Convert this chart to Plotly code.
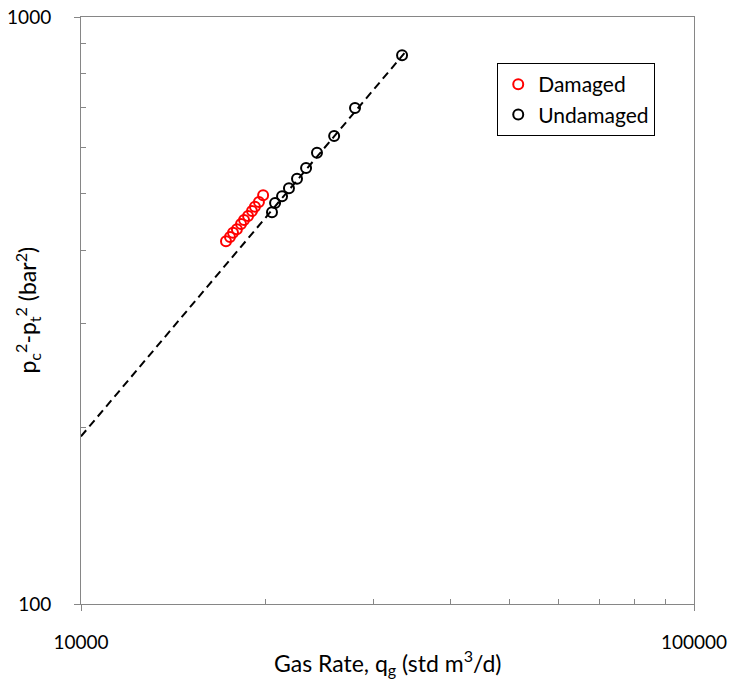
import plotly.graph_objects as go

# Damaged well test data
damaged_q = [17240, 17500, 17700, 17960, 18240, 18450, 18730, 19010, 19220, 19510, 19820]
damaged_dp2 = [415, 422, 429, 435, 444, 451, 458, 467, 475, 484, 497]

# Undamaged well test data
undamaged_q = [20490, 20730, 21280, 21840, 22510, 23290, 24265, 25880, 27990, 33400]
undamaged_dp2 = [465, 482, 495, 511, 530, 553, 587, 627, 700, 861]

# Backpressure fit line (end points)
fit_q = [10000, 33700]
fit_dp2 = [193, 868]

x_ticks = [10000, 100000]
y_ticks = [100, 1000]
x_minor = [20000, 30000, 40000, 50000, 60000, 70000, 80000, 90000]
y_minor = [200, 300, 400, 500, 600, 700, 800, 900]

x_title = "Gas Rate, q<sub>g</sub> (std m<sup>3</sup>/d)"
y_title = "p<sub>c</sub><sup>2</sup>-p<sub>t</sub><sup>2</sup> (bar<sup>2</sup>)"

FONT = "Lato, Open Sans, sans-serif"
AXIS_COLOR = "#868686"

fig = go.Figure()
fig.add_trace(go.Scatter(
    x=fit_q, y=fit_dp2, mode="lines", showlegend=False,
    line=dict(color="black", width=2, dash="8px,5px"), hoverinfo="skip"))
fig.add_trace(go.Scatter(
    x=damaged_q, y=damaged_dp2, mode="markers", name="Damaged",
    marker=dict(symbol="circle-open", size=10, color="#FF0000", line=dict(width=2, color="#FF0000"))))
fig.add_trace(go.Scatter(
    x=undamaged_q, y=undamaged_dp2, mode="markers", name="Undamaged",
    marker=dict(symbol="circle-open", size=10, color="black", line=dict(width=2, color="black"))))

fig.update_layout(
    width=732, height=681,
    margin=dict(l=81, r=38, t=17, b=77),
    paper_bgcolor="white", plot_bgcolor="white",
    font=dict(family=FONT, size=19, color="black"),
    legend=dict(x=0.679, y=0.9216, xanchor="left", yanchor="top",
                bordercolor="black", borderwidth=1, bgcolor="white",
                font=dict(size=21, family=FONT)),
    annotations=[
        dict(text=x_title, xref="paper", yref="paper", x=0.5, y=-0.1005,
             xanchor="center", yanchor="middle", showarrow=False,
             font=dict(size=23, family=FONT)),
        dict(text=y_title, xref="paper", yref="paper", x=-0.088, y=0.5,
             xanchor="center", yanchor="middle", showarrow=False, textangle=-90,
             font=dict(size=23, family=FONT)),
    ],
)
fig.update_xaxes(
    type="log", range=[4, 5], tickmode="array", tickvals=x_ticks,
    ticktext=[str(v) for v in x_ticks], automargin=False,
    showgrid=False, zeroline=False, showline=True, linecolor=AXIS_COLOR, linewidth=1,
    mirror=True, ticks="outside", ticklen=6, tickcolor=AXIS_COLOR,
    ticklabelstandoff=15,
    minor=dict(tickmode="array", tickvals=x_minor, ticks="inside", ticklen=5,
               tickcolor=AXIS_COLOR, showgrid=False),
)
fig.update_yaxes(
    type="log", range=[2, 3], tickmode="array", tickvals=y_ticks,
    ticktext=[str(v) for v in y_ticks], automargin=False,
    showgrid=False, zeroline=False, showline=True, linecolor=AXIS_COLOR, linewidth=1,
    mirror=True, ticks="outside", ticklen=6, tickcolor=AXIS_COLOR,
    ticklabelstandoff=19,
    minor=dict(tickmode="array", tickvals=y_minor, ticks="inside", ticklen=5,
               tickcolor=AXIS_COLOR, showgrid=False),
)

fig.write_html("out.html")
